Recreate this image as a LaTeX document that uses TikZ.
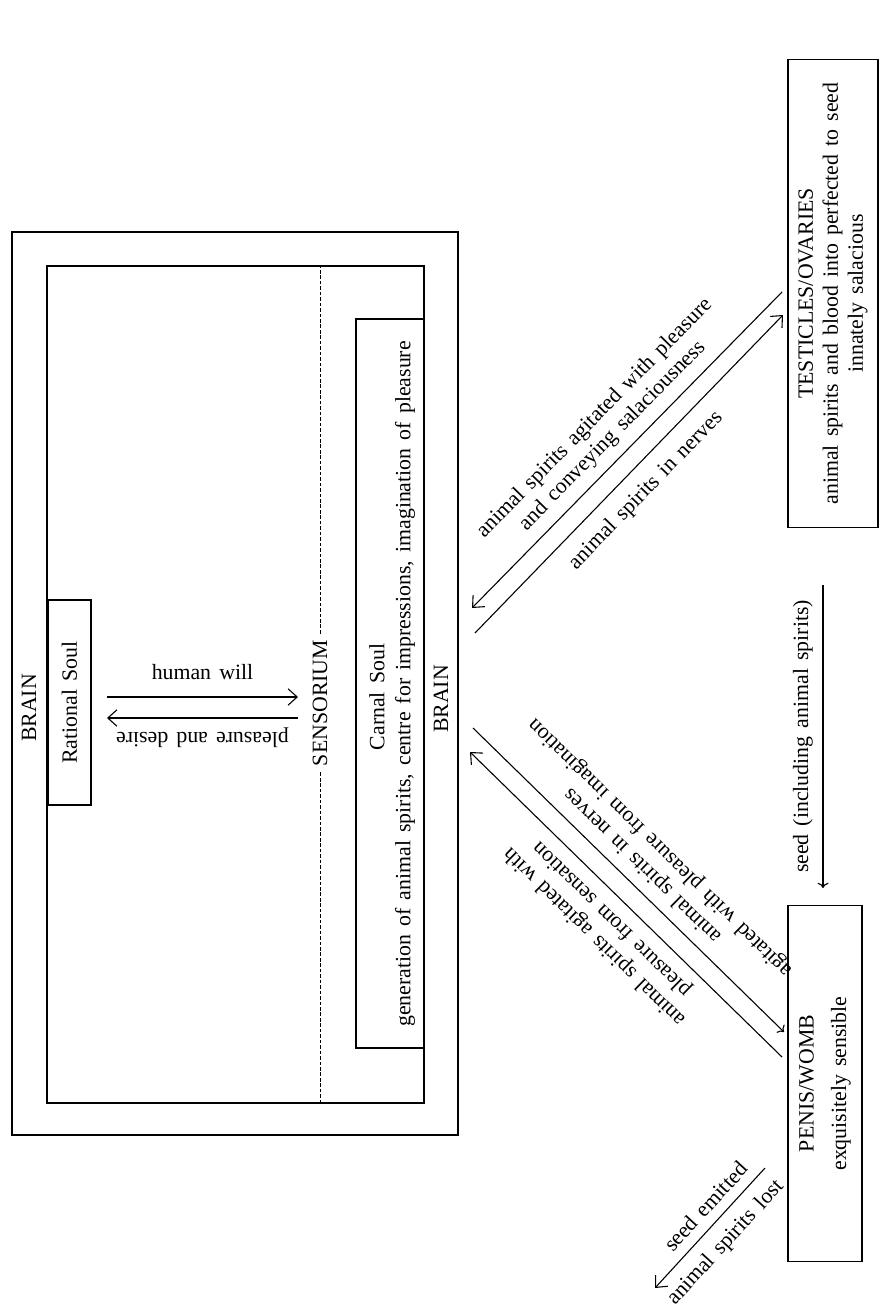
\documentclass[tikz,border=0pt]{standalone}
\usepackage{fontspec}
\setmainfont[WordSpace=1.5]{Liberation Serif}
\usetikzlibrary{arrows.meta}

\begin{document}
\begin{tikzpicture}[x=0.55pt, y=-0.55pt,
	every node/.style={font=\fontsize{12}{13.75}\selectfont},
	frame/.style={draw=black, line width=0.7pt},
	vtext/.style={rotate=90, align=center},
	link/.style={line width=0.6pt, -{Straight Barb[length=5pt,width=9pt]}},
	]
	\useasboundingbox (0,0) rectangle (881,1309);

	\draw[frame] (12,232) rectangle (458,1135);
	\draw[frame] (47,266) rectangle (424,1103);

	\node[vtext] (brainl) at (29,708) {BRAIN};
	\node[frame, vtext, minimum width=112.75pt, minimum height=23.65pt] (rational) at (69.5,702.5) {Rational Soul};
	\node[vtext] (sensorium) at (320,703) {SENSORIUM};
	\node[frame, vtext, minimum width=401pt, minimum height=37.4pt] (carnal) at (390,683.5) {};
	\node[vtext] (carnaltitle) at (377,697) {Carnal Soul};
	\node[vtext] (carnalgen) at (405,684) {generation of animal spirits, centre for impressions, imagination of pleasure};
	\node[vtext] (brainr) at (441,699) {BRAIN};

	\node[frame, vtext, minimum width=257pt, minimum height=49.5pt] (testes) at (833,293.5) {TESTICLES/OVARIES\\animal spirits and blood into perfected to seed\\innately salacious};
	\node[frame, vtext, minimum width=196pt, minimum height=40.7pt] (penis) at (825,1083.5) {PENIS/WOMB\\[4pt]exquisitely sensible};

	\coordinate (dtop) at (320,266);
	\coordinate (dbot) at (320,1103);
	\draw[dashed, dash pattern=on 2pt off 1pt, line width=0.5pt] (sensorium.east) -- (dtop);
	\draw[dashed, dash pattern=on 2pt off 1pt, line width=0.5pt] (sensorium.west) -- (dbot);

	\coordinate (hw1) at (107,697);
	\coordinate (hw2) at (298,697);
	\coordinate (pd1) at (298,718);
	\coordinate (pd2) at (107,718);
	\coordinate (bt1) at (782,292);
	\coordinate (bt2) at (472,608);
	\coordinate (bt3) at (475,633);
	\coordinate (bt4) at (783,315);
	\coordinate (bp1) at (473,728);
	\coordinate (bp2) at (784,1032);
	\coordinate (bp3) at (782,1057);
	\coordinate (bp4) at (470,752);
	\coordinate (sd1) at (823,585);
	\coordinate (sd2) at (823,888);
	\coordinate (em1) at (765,1168);
	\coordinate (em2) at (655,1288);

	\path[link] (hw1) edge node[above=6pt]{human will} (hw2);
	\path[link] (pd1) edge node[sloped, allow upside down, above=2pt]{pleasure and desire} (pd2);
	\path[link] (bt1) edge node[sloped, above=2pt, align=center]{animal spirits agitated with pleasure\\and conveying salaciousness} (bt2);
	\path[link] (bt3) edge node[sloped, below=4pt]{animal spirits in nerves} (bt4);
	\path[link, <-] (bp2) edge node[sloped, allow upside down, below=2pt, align=center]{animal spirits in nerves\\agitated with pleasure from imagination} (bp1);
	\path[link] (bp3) edge node[sloped, allow upside down, above=2pt, align=center]{animal spirits agitated with\\pleasure from sensation} (bp4);
	\path[link, <-] (sd2) edge node[sloped, above=2pt]{seed (including animal spirits)} (sd1);
	\path[link] (em1) edge node[sloped, pos=0.42, above=2pt]{seed emitted} node[sloped, pos=0.5, below=3pt]{animal spirits lost} (em2);
\end{tikzpicture}
\end{document}
